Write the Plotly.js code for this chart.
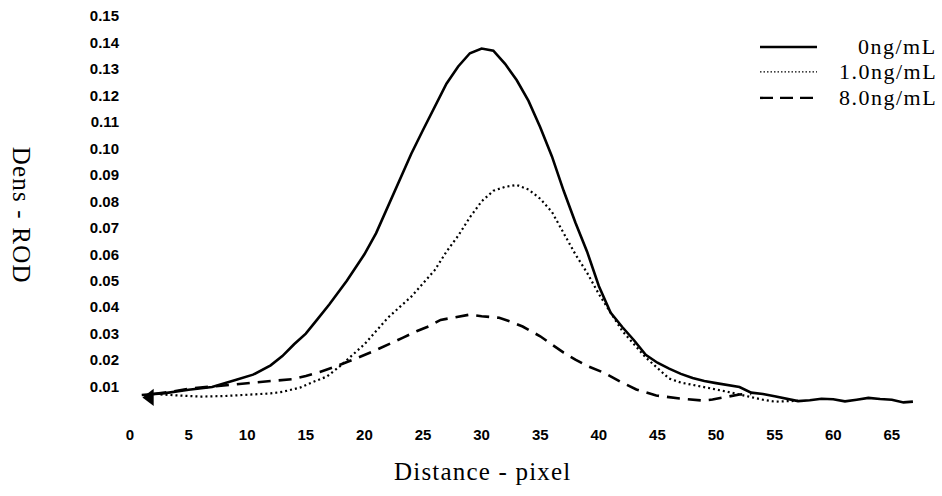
<!DOCTYPE html>
<html>
<head>
<meta charset="utf-8">
<script src="https://cdn.plot.ly/plotly-3.0.1.min.js"></script>
<style>
  html, body { margin: 0; padding: 0; background: #fff; }
  #chart { width: 942px; height: 496px; }
</style>
</head>
<body>
<div id="chart"></div>
<script>
// ---- data ----
const seriesNames = ["0ng/mL", "1.0ng/mL", "8.0ng/mL"];

const x0 = [1.0, 3, 5, 7, 9, 10.5, 12, 13, 14, 15, 16, 17, 18.5, 20, 21, 22, 23, 24, 25, 26, 27, 28, 29, 30, 31, 32, 33, 34, 35, 36, 37, 38, 39, 40, 41, 42, 43, 44, 45, 46, 47, 48, 49, 50, 51, 52, 53, 54, 55, 56, 57, 58, 59, 60, 61, 62, 63, 64, 65, 66, 66.8];
const y0 = [0.0068, 0.0075, 0.0088, 0.0098, 0.0125, 0.0145, 0.018, 0.0215, 0.026, 0.030, 0.0355, 0.041, 0.050, 0.060, 0.068, 0.078, 0.088, 0.098, 0.107, 0.116, 0.1245, 0.131, 0.136, 0.1378, 0.137, 0.132, 0.1258, 0.118, 0.108, 0.097, 0.084, 0.072, 0.061, 0.048, 0.038, 0.0325, 0.0275, 0.022, 0.019, 0.0168, 0.0148, 0.0132, 0.0121, 0.0113, 0.0106, 0.0098, 0.0077, 0.0072, 0.0063, 0.0055, 0.0045, 0.0048, 0.0054, 0.0052, 0.0044, 0.0050, 0.0057, 0.0053, 0.0050, 0.0040, 0.0043];

const x1 = [2.6, 4, 6, 8, 10, 12, 13, 14.5, 15.5, 16.8, 18, 19, 20, 21, 22, 23, 24, 25, 26, 27, 28, 29, 30, 31, 32, 33, 34, 35, 36, 37, 38, 39, 40, 41, 42, 43, 44, 45, 46, 47, 48, 49, 50, 51, 52, 53, 54, 55, 56, 57];
const y1 = [0.0070, 0.0066, 0.0062, 0.0064, 0.0069, 0.0074, 0.0080, 0.0096, 0.0115, 0.0138, 0.018, 0.022, 0.026, 0.031, 0.036, 0.040, 0.044, 0.049, 0.054, 0.061, 0.067, 0.074, 0.080, 0.084, 0.0855, 0.0862, 0.0845, 0.081, 0.076, 0.068, 0.060, 0.053, 0.045, 0.038, 0.031, 0.026, 0.021, 0.017, 0.013, 0.0115, 0.0107, 0.0098, 0.0089, 0.0080, 0.0070, 0.0058, 0.0050, 0.0043, 0.0045, 0.0046];

const x2 = [2, 3.5, 5, 7.4, 9, 10.5, 12, 13.9, 15, 16.2, 17.5, 18.5, 19.5, 20.7, 22, 23.3, 24.5, 25.5, 26.5, 28, 29, 30, 31.5, 32.5, 33.5, 35, 36, 37, 38, 39, 40.4, 41.8, 43.2, 44.9, 46.9, 48.9, 49.7, 50.9, 52, 53];
const y2 = [0.0072, 0.0080, 0.0092, 0.0100, 0.0108, 0.0115, 0.0120, 0.0128, 0.0140, 0.0155, 0.0175, 0.0194, 0.021, 0.0232, 0.026, 0.0285, 0.031, 0.0328, 0.0352, 0.0364, 0.0372, 0.0366, 0.036, 0.0345, 0.0327, 0.029, 0.0258, 0.0228, 0.0202, 0.0178, 0.0153, 0.0119, 0.0089, 0.0066, 0.0055, 0.0047, 0.0051, 0.0062, 0.0070, 0.0072];

// cursor-like arrow mark at the start of the curves
const cursorX = [1.7];
const cursorY = [0.0059];

const xTickVals = [0, 5, 10, 15, 20, 25, 30, 35, 40, 45, 50, 55, 60, 65];
const yTickVals = [0.01, 0.02, 0.03, 0.04, 0.05, 0.06, 0.07, 0.08, 0.09, 0.10, 0.11, 0.12, 0.13, 0.14, 0.15];
const yTickText = ["0.01", "0.02", "0.03", "0.04", "0.05", "0.06", "0.07", "0.08", "0.09", "0.10", "0.11", "0.12", "0.13", "0.14", "0.15"];

const xTitle = "Distance - pixel";
const yTitle = "Dens - ROD";

// ---- styles ----
const lineStyles = [
  { color: "#000", width: 2.6, dash: "solid" },
  { color: "#000", width: 2.2, dash: "2px,3px" },
  { color: "#000", width: 2.6, dash: "13px,8px" }
];

const traces = [
  { x: x0, y: y0, name: seriesNames[0], mode: "lines", line: lineStyles[0], showlegend: false },
  { x: x1, y: y1, name: seriesNames[1], mode: "lines", line: lineStyles[1], showlegend: false },
  { x: x2, y: y2, name: seriesNames[2], mode: "lines", line: lineStyles[2], showlegend: false },
  { x: cursorX, y: cursorY, mode: "markers", marker: { symbol: "triangle-left", size: 15, color: "#000" }, showlegend: false, hoverinfo: "skip" }
];

const serif = "'Liberation Serif', 'Times New Roman', serif";
const tickFont = { family: "'Liberation Sans', Arial, sans-serif", size: 15, color: "#000", weight: "bold" };

const margin = { l: 130, r: 15, t: 3, b: 82.5 };
const plotW = 942 - margin.l - margin.r;
const plotH = 496 - margin.t - margin.b;
function px2paperX(px) { return (px - margin.l) / plotW; }
function px2paperY(py) { return (496 - margin.b - py) / plotH; }
function spaced(t, ls) { return '<span style="letter-spacing:' + ls + 'px">' + t + '</span>'; }

// manual legend (samples + right-aligned labels)
const legendRows = [47, 72, 98];
const shapes = [];
const annotations = [];
seriesNames.forEach((nm, i) => {
  const ly = px2paperY(legendRows[i]);
  shapes.push({
    type: "line", xref: "paper", yref: "paper",
    x0: px2paperX(760), x1: px2paperX(817), y0: ly, y1: ly,
    line: { color: "#000", width: i === 1 ? 1.4 : 2.4, dash: i === 1 ? "1.5px,2px" : (i === 2 ? "13px,7px" : "solid") }
  });
  annotations.push({
    text: spaced(nm, 1.5), xref: "paper", yref: "paper", x: px2paperX(939), y: ly,
    xanchor: "right", yanchor: "middle", showarrow: false,
    font: { family: serif, size: 22, color: "#000" }
  });
});

annotations.push({
  text: spaced(xTitle, 1.2), xref: "paper", yref: "paper",
  x: px2paperX(482), y: px2paperY(472), xanchor: "center", yanchor: "middle",
  showarrow: false, font: { family: serif, size: 25, color: "#000" }
});
annotations.push({
  text: spaced(yTitle, 1.2), xref: "paper", yref: "paper",
  x: px2paperX(21), y: px2paperY(215), xanchor: "center", yanchor: "middle",
  textangle: 90, showarrow: false, font: { family: serif, size: 25, color: "#000" }
});

const layout = {
  width: 942, height: 496,
  margin: margin,
  paper_bgcolor: "#fff", plot_bgcolor: "#fff",
  showlegend: false,
  xaxis: {
    range: [0, 68], showgrid: false, zeroline: false, showline: false,
    ticks: "", tickvals: xTickVals, ticktext: xTickVals.map(String),
    tickfont: tickFont, ticklabelstandoff: 11, automargin: false
  },
  yaxis: {
    range: [0, 0.155], showgrid: false, zeroline: false, showline: false,
    ticks: "", tickvals: yTickVals, ticktext: yTickText,
    tickfont: tickFont, ticklabelstandoff: 10, automargin: false
  },
  shapes: shapes,
  annotations: annotations
};

Plotly.newPlot("chart", traces, layout, { staticPlot: true, displayModeBar: false });
</script>
</body>
</html>
